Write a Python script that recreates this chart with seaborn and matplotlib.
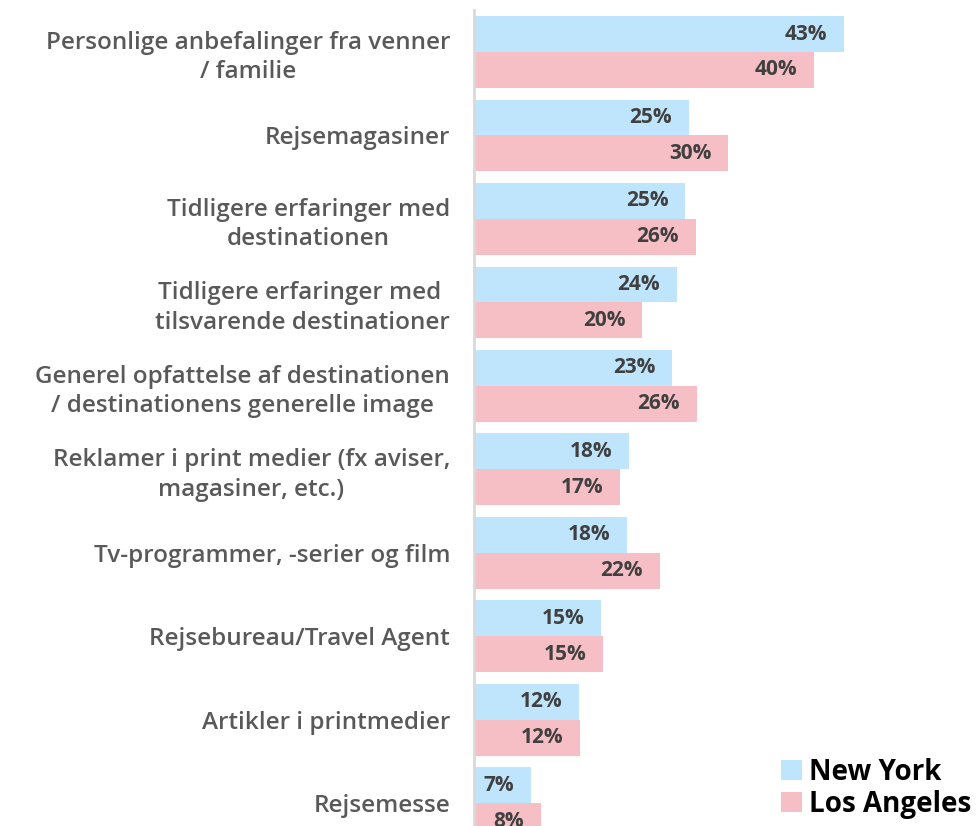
import matplotlib
matplotlib.use("Agg")
import matplotlib.pyplot as plt
import seaborn as sns
import pandas as pd

# Données
kategorier = [
    "Personlige anbefalinger fra venner\n/ familie",
    "Rejsemagasiner",
    "Tidligere erfaringer med\ndestinationen",
    "Tidligere erfaringer med \ntilsvarende destinationer",
    "Generel opfattelse af destinationen\n/ destinationens generelle image",
    "Reklamer i print medier (fx aviser,\nmagasiner, etc.)",
    "Tv-programmer, -serier og film",
    "Rejsebureau/Travel Agent",
    "Artikler i printmedier",
    "Rejsemesse",
]
new_york = [43.0, 25.0, 24.6, 23.6, 23.1, 18.0, 17.8, 14.8, 12.2, 6.6]
los_angeles = [39.6, 29.6, 25.8, 19.6, 25.9, 17.0, 21.6, 15.0, 12.3, 7.8]
serier = ["New York", "Los Angeles"]
farver = ["#BEE5FC", "#F6BFC6"]

df = pd.DataFrame({
    "Kategori": kategorier * 2,
    "By": [serier[0]] * len(kategorier) + [serier[1]] * len(kategorier),
    "Andel": new_york + los_angeles,
})

sns.set_style("white")
plt.rcParams['font.family'] = ['Open Sans', 'DejaVu Sans']

fig = plt.figure(figsize=(9.77, 8.26), dpi=100)
ax = fig.add_axes([0.485, -0.023, 0.5105, 1.0106])

sns.barplot(data=df, y="Kategori", x="Andel", hue="By", palette=farver,
            width=0.86, orient="h", ax=ax, saturation=1, legend=True,
            linewidth=0)

ax.set_xlim(0, 58)
ax.set_ylim(len(kategorier) - 0.5, -0.5)
ax.set_xlabel("")
ax.set_ylabel("")
ax.set_xticks([])
for s in ["top", "right", "bottom"]:
    ax.spines[s].set_visible(False)
ax.spines["left"].set_color("#D9D9D9")
ax.spines["left"].set_linewidth(2)

ax.tick_params(axis="y", length=0, pad=17)
for lbl in ax.get_yticklabels():
    lbl.set_fontsize(17.5)
    lbl.set_fontweight("semibold")
    lbl.set_color("#595959")
    lbl.set_multialignment("center")
    lbl.set_linespacing(1.3)

# Étiquettes de valeurs
for cont in ax.containers:
    for p in cont:
        w = p.get_width()
        yc = p.get_y() + p.get_height() / 2
        ax.annotate(f"{w:.0f}%", xy=(w, yc), xytext=(-12, 0),
                    textcoords="offset points", ha="right", va="center",
                    fontsize=15, fontweight="bold", color="#404040")

leg = ax.legend(loc="lower right", bbox_to_anchor=(1.019, 0.018), frameon=False,
                fontsize=20, handlelength=0.75, handleheight=0.75,
                handletextpad=0.25, labelspacing=0.12, borderaxespad=0)
for t in leg.get_texts():
    t.set_fontweight("bold")
    t.set_color("black")

plt.savefig("out.png", dpi=100)
